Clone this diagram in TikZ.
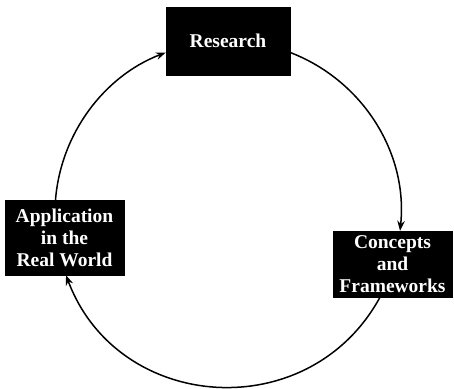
\documentclass[tikz,border=0pt]{standalone}
\usepackage{fontspec}
\setmainfont{Liberation Serif}
\usepackage{tikz}
\usetikzlibrary{arrows.meta}
\tikzset{box style/.style={
		draw=black,
		fill=black,
		text=white,
		rectangle,
		align=center,
		inner sep=0pt,
		font=\fontsize{19.5}{22}\selectfont\bfseries,
	},
	arrow style/.style={
		line width=1.5pt,
		-{Stealth[length=10pt,width=7.5pt]},
		#1
	}
}

\begin{document}
\begin{tikzpicture}[x=1pt,y=1pt]
	\useasboundingbox (0,0) rectangle (454,388);
	
	\node[box style, minimum width=124pt, minimum height=68pt] (Research) at (228,347) {Research};
	
	\node[box style, minimum width=119pt, minimum height=66pt] (Concepts) at (392.5,124) {Concepts\\and\\Frameworks};
	
	\node[box style, minimum width=119pt, minimum height=75pt] (Application) at (64.5,150.5) {Application\\in the\\Real World};
	
	\draw[arrow style={looseness=0.95}] ([yshift=-11.5pt]Research.east) to[out=-21,in=84] ([xshift=7.5pt]Concepts.north);
	
	\draw[arrow style={looseness=1.2}] ([xshift=-12.5pt]Concepts.south) to[out=-118.6,in=-69.4] ([xshift=1.5pt]Application.south);
	
	\draw[arrow style={looseness=0.92}] ([xshift=-9pt]Application.north) to[out=85.4,in=-159] ([yshift=-11.5pt]Research.west);
\end{tikzpicture}
\end{document}
